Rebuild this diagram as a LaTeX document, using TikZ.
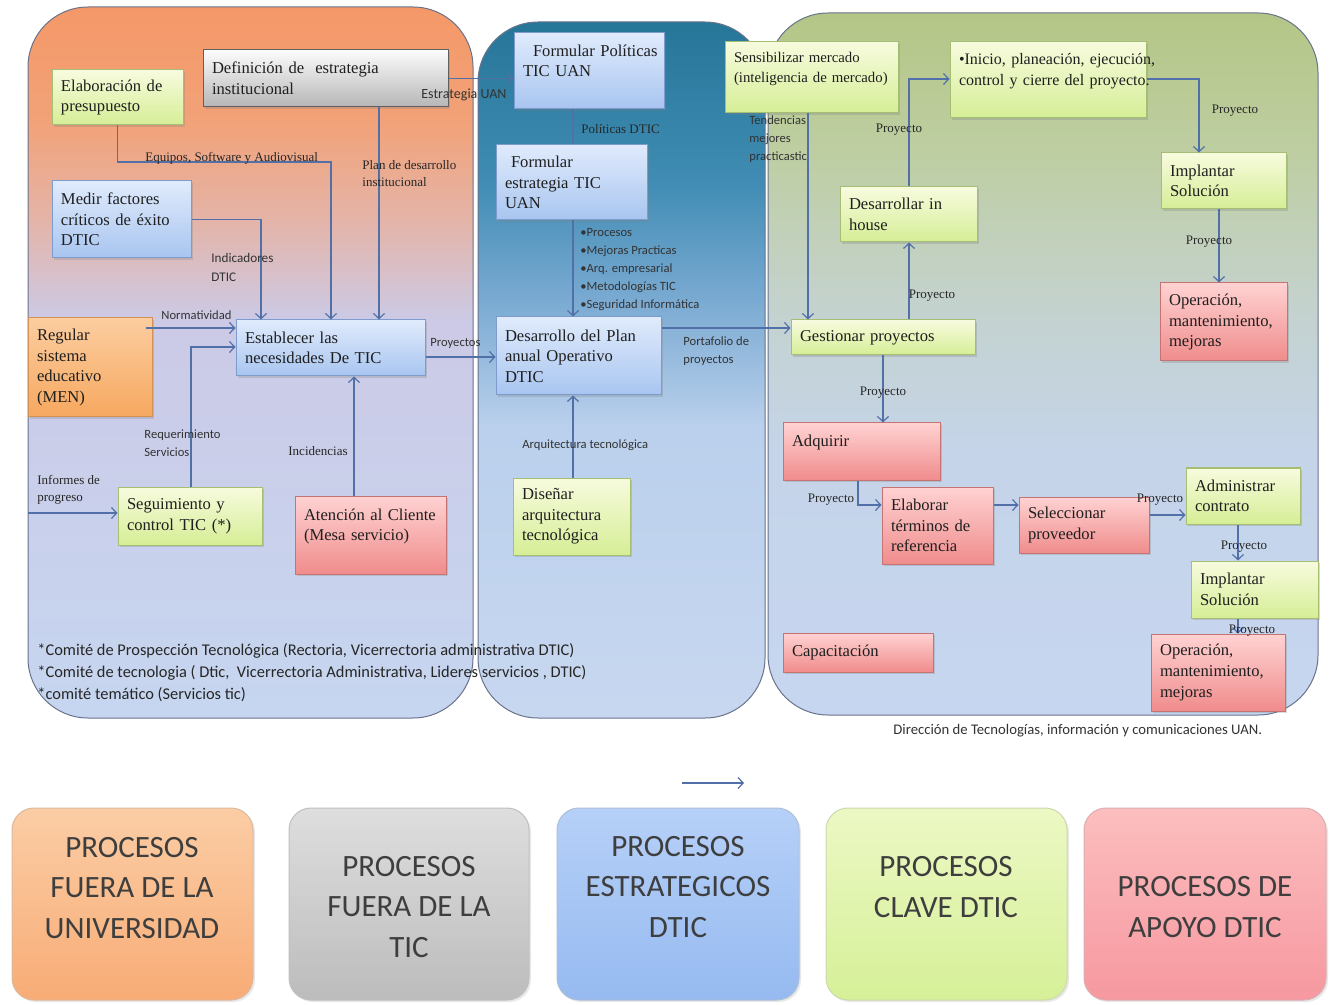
\documentclass[tikz,border=0pt]{standalone}
\usepackage{fontspec}
\setmainfont{Liberation Serif}
\setsansfont{Carlito}
\usetikzlibrary{arrows.meta,shadows,calc}

% connector and text colours
\definecolor{lnk}{RGB}{82,112,168}
\definecolor{panelline}{RGB}{105,115,140}
\definecolor{legendtext}{RGB}{62,62,62}
% box colours
\definecolor{bxbluetop}{RGB}{224,235,252}
\definecolor{bxbluebot}{RGB}{168,197,240}
\definecolor{bxblueline}{RGB}{125,155,205}
\definecolor{bxgreentop}{RGB}{247,251,222}
\definecolor{bxgreenbot}{RGB}{214,238,150}
\definecolor{bxgreenline}{RGB}{165,190,115}
\definecolor{bxredtop}{RGB}{255,210,210}
\definecolor{bxredbot}{RGB}{240,140,140}
\definecolor{bxredline}{RGB}{200,115,115}
\definecolor{bxorangetop}{RGB}{252,205,160}
\definecolor{bxorangebot}{RGB}{246,168,95}
\definecolor{bxorangeline}{RGB}{210,145,85}
\definecolor{bxgraytop}{RGB}{252,252,252}
\definecolor{bxgraybot}{RGB}{182,182,182}
\definecolor{bxgrayline}{RGB}{95,95,95}
% legend colours
\definecolor{lgorangetop}{RGB}{251,205,165}
\definecolor{lgorangebot}{RGB}{248,172,118}
\definecolor{lggraytop}{RGB}{222,222,222}
\definecolor{lggraybot}{RGB}{188,188,188}
\definecolor{lgbluetop}{RGB}{182,208,248}
\definecolor{lgbluebot}{RGB}{150,186,240}
\definecolor{lggreentop}{RGB}{236,248,196}
\definecolor{lggreenbot}{RGB}{214,240,152}
\definecolor{lgredtop}{RGB}{252,190,190}
\definecolor{lgredbot}{RGB}{246,152,160}
% panel colours
\definecolor{pla}{RGB}{244,152,104}
\definecolor{plb}{RGB}{242,162,120}
\definecolor{plc}{RGB}{228,180,168}
\definecolor{pld}{RGB}{204,202,230}
\definecolor{ple}{RGB}{198,214,240}
\definecolor{pma}{RGB}{38,118,152}
\definecolor{pmb}{RGB}{64,140,180}
\definecolor{pmc}{RGB}{122,170,210}
\definecolor{pmd}{RGB}{186,208,236}
\definecolor{pme}{RGB}{200,215,240}
\definecolor{pra}{RGB}{180,198,134}
\definecolor{prb}{RGB}{190,206,162}
\definecolor{prc}{RGB}{196,210,205}
\definecolor{prd}{RGB}{197,212,232}
\definecolor{pre}{RGB}{198,214,240}

\pgfdeclareverticalshading{leftpanel}{100bp}{color(0bp)=(ple); color(25bp)=(ple);
  color(53bp)=(pld); color(60bp)=(plc); color(67bp)=(plb); color(75bp)=(pla); color(100bp)=(pla)}
\pgfdeclareverticalshading{midpanel}{100bp}{color(0bp)=(pme); color(25bp)=(pme);
  color(46bp)=(pmd); color(55bp)=(pmc); color(63.5bp)=(pmb); color(75bp)=(pma); color(100bp)=(pma)}
\pgfdeclareverticalshading{rightpanel}{100bp}{color(0bp)=(pre); color(25bp)=(pre);
  color(44bp)=(prd); color(54.5bp)=(prc); color(65bp)=(prb); color(75bp)=(pra); color(100bp)=(pra)}

\tikzset{
  procbox/.style={rectangle, line width=0.5pt, align=left, inner xsep=4.5pt, inner ysep=1pt,
    font=\fontsize{8.3}{10.3}\selectfont, text=black!88,
    drop shadow={shadow xshift=1.2pt, shadow yshift=-1.2pt, opacity=0.28}},
  bluebox/.style={procbox, draw=bxblueline, top color=bxbluetop, bottom color=bxbluebot},
  greenbox/.style={procbox, draw=bxgreenline, top color=bxgreentop, bottom color=bxgreenbot},
  redbox/.style={procbox, draw=bxredline, top color=bxredtop, bottom color=bxredbot},
  orangebox/.style={procbox, draw=bxorangeline, top color=bxorangetop, bottom color=bxorangebot},
  graybox/.style={procbox, draw=bxgrayline, top color=bxgraytop, bottom color=bxgraybot},
  link/.style={draw=lnk, line width=0.6pt},
  arr/.style={link, -{Straight Barb[length=2.6pt,width=5.5pt]}},
  lbl/.style={inner sep=0pt, align=left, text=black!85, font=\fontsize{6.5}{8.5}\selectfont},
  slbl/.style={inner sep=0pt, align=left, text=black!80, font=\sffamily\fontsize{6.3}{9}\selectfont},
  panel/.style={draw=panelline, line width=0.5pt, rounded corners=30pt},
  legendbox/.style={rectangle, rounded corners=11pt, line width=0.5pt,
    drop shadow={shadow xshift=1pt, shadow yshift=-1pt, opacity=0.18}},
  legendlabel/.style={align=center, text=legendtext, inner sep=0pt,
    font=\sffamily\fontsize{15.5}{20.3}\selectfont}
}

% process box from its pixel corners: name, style, x1, y1, x2, y2, text
\newcommand\dticbox[7]{%
  \pgfmathsetmacro\dbw{(#5-#3)/2}%
  \pgfmathsetmacro\dbh{(#6-#4)/2}%
  \pgfmathsetmacro\dtw{(#5-#3)/2-9}%
  \node[#2, minimum width=\dbw pt, minimum height=\dbh pt, text width=\dtw pt]
    (#1) at ({(#3+#5)/2},{(#4+#6)/2}) {#7};%
}
% legend tile: name, top colour, bottom colour, x1, x2
\newcommand\legendtile[5]{%
  \pgfmathsetmacro\lgw{(#5-#4)/2}%
  \node[legendbox, draw=#3!80!black!60, top color=#2, bottom color=#3,
    minimum width=\lgw pt, minimum height=96pt] (#1) at ({(#4+#5)/2},904) {};%
}

\begin{document}
\begin{tikzpicture}[x=0.5pt,y=-0.5pt]
\useasboundingbox (0,0) rectangle (1333,1005);
\fill[white] (0,0) rectangle (1333,1005);

% ---- the three process areas
\path[panel, shading=leftpanel] (28,7) rectangle (473,718);
\path[panel, shading=midpanel] (478,22) rectangle (765,718);
\path[panel, shading=rightpanel] (768,13) rectangle (1318,715);

% ---- processes outside DTIC and strategic processes
\dticbox{def}{graybox}{203}{50}{448}{107}{Definición de\ \ estrategia\\institucional}
\dticbox{elab}{greenbox}{52}{70}{183}{125}{Elaboración de\\presupuesto}
\dticbox{medir}{bluebox}{52}{181}{191}{258}{Medir factores\\críticos de éxito\\DTIC}
\dticbox{regular}{orangebox}{28}{318}{152}{417}{Regular\\sistema\\educativo\\(MEN)}
\dticbox{estab}{bluebox}{236}{320}{425}{376}{Establecer las\\necesidades De TIC}
\dticbox{segui}{greenbox}{118}{487}{262}{545}{Seguimiento y\\control TIC (*)}
\dticbox{atenc}{redbox}{295}{496}{446}{574}{Atención al Cliente\\(Mesa servicio)\\\mbox{}}
\dticbox{formpol}{bluebox}{514}{33}{664}{109}{\mbox{\hspace*{5pt}Formular Políticas}\\TIC UAN\\\mbox{}}
\dticbox{formest}{bluebox}{496}{145}{647}{220}{\hspace*{3pt}Formular\\estrategia TIC\\UAN}
\dticbox{desplan}{bluebox}{496}{317}{661}{395}{Desarrollo del Plan\\anual Operativo\\DTIC}
\dticbox{disenar}{greenbox}{513}{478}{630}{555}{Diseñar\\arquitectura\\tecnológica}

% ---- key processes
\dticbox{sensib}{greenbox, font=\fontsize{7.4}{10.2}\selectfont}{725}{42}{898}{113}{Sensibilizar mercado\\(inteligencia de mercado)\\\mbox{}}
\dticbox{inicio}{greenbox, font=\fontsize{8}{10.3}\selectfont}{950}{42}{1146}{118}{\mbox{•Inicio, planeación, ejecución,}\\\mbox{control y cierre del proyecto.}\\\mbox{}}
\dticbox{implA}{greenbox}{1161}{153}{1286}{209}{Implantar\\Solución}
\dticbox{desinh}{greenbox}{840}{187}{977}{242}{Desarrollar in\\house}
\dticbox{gestion}{greenbox}{791}{320}{975}{355}{Gestionar proyectos}
\dticbox{operA}{redbox}{1160}{283}{1287}{361}{Operación,\\mantenimiento,\\mejoras}
\dticbox{adquirir}{redbox}{783}{423}{940}{480}{Adquirir\\\mbox{}}
\dticbox{elabterm}{redbox}{882}{487}{993}{564}{Elaborar\\términos de\\referencia}
\dticbox{selec}{redbox}{1019}{497}{1149}{553}{Seleccionar\\proveedor}
\dticbox{admin}{greenbox}{1186}{468}{1300}{524}{Administrar\\contrato}
\dticbox{implB}{greenbox}{1191}{561}{1318}{618}{Implantar\\Solución}
\dticbox{capac}{redbox}{783}{633}{933}{672}{Capacitación}
\dticbox{operB}{redbox}{1151}{634}{1285}{711}{Operación,\\mantenimiento,\\mejoras}

% ---- turning points and free ends of connectors
\coordinate (t1) at (331,162);
\coordinate (t2) at (261,0);
\coordinate (t3) at (379,0);
\coordinate (t4) at (0,328);
\coordinate (t5) at (191,347);
\coordinate (t6) at (354,0);
\coordinate (inf) at (28,513);
\coordinate (t7) at (0,357);
\coordinate (t8) at (573,0);
\coordinate (t9) at (0,328);
\coordinate (t10) at (808,0);
\coordinate (t11) at (909,0);
\coordinate (t12) at (909,79);
\coordinate (t13) at (1199,79);
\coordinate (t14) at (1219,0);
\coordinate (t15) at (883,0);
\coordinate (t16) at (858,505);
\coordinate (t17) at (0,505);
\coordinate (t18) at (0,515);
\coordinate (t19) at (1238,0);
\coordinate (s1) at (682,783);
\coordinate (s2) at (744,783);

% ---- connectors
\draw[arr] (def.east) -- (def.east -| formpol.west);
\draw[arr] (elab.south) |- (t1) -- (t1 |- estab.north);
\draw[arr] (medir.east) -| (t2 |- estab.north);
\draw[arr] (t3 |- def.south) -- (t3 |- estab.north);
\draw[arr] ([xshift=-3.5pt]regular.east |- t4) -- (estab.west |- t4);
\draw[arr] (t5 |- segui.north) -- (t5) -- (estab.west |- t5);
\draw[arr] (t6 |- atenc.north) -- (t6 |- estab.south);
\draw[arr] (inf) -- (segui.west |- inf);
\draw[arr] (estab.east |- t7) -- (desplan.west |- t7);
\draw[link] (t8 |- formpol.south) -- (t8 |- formest.north);
\draw[arr] (t8 |- formest.south) -- (t8 |- desplan.north);
\draw[arr] (t8 |- disenar.north) -- (t8 |- desplan.south);
\draw[arr] (desplan.east |- t9) -- (gestion.west |- t9);
\draw[arr] (t10 |- sensib.south) -- (t10 |- gestion.north);
\draw[arr] (t11 |- gestion.north) -- (t11 |- desinh.south);
\draw[arr] (t11 |- desinh.north) -- (t12) -- (inicio.west |- t12);
\draw[arr] (inicio.east |- t13) -- (t13) -- (t13 |- implA.north);
\draw[arr] (t14 |- implA.south) -- (t14 |- operA.north);
\draw[arr] (t15 |- gestion.south) -- (t15 |- adquirir.north);
\draw[arr] (t16 |- adquirir.south) -- (t16) -- (elabterm.west |- t16);
\draw[arr] (elabterm.east |- t17) -- (selec.west |- t17);
\draw[arr] (selec.east |- t18) -- (admin.west |- t18);
\draw[arr] (t19 |- admin.south) -- (t19 |- implB.north);
\draw[arr] (t19 |- implB.south) -- (t19 |- operB.north);
\draw[arr] (s1) -- (s2);

% ---- connector labels
\node[slbl, font=\sffamily\fontsize{7}{9}\selectfont, anchor=west] (lestr) at (421,95) {Estrategia UAN};
\node[lbl, anchor=west] (lequip) at (145,158) {Equipos, Software y Audiovisual};
\node[lbl, anchor=north west] (lplan) at (362,160) {Plan de desarrollo\\institucional};
\node[slbl, font=\sffamily\fontsize{6.6}{9.5}\selectfont, anchor=north west] (lindic) at (211,253) {Indicadores\\DTIC};
\node[slbl, anchor=west] (lnorm) at (161,315) {Normatividad};
\node[slbl, anchor=north west] (lreq) at (144,429) {Requerimiento\\Servicios};
\node[lbl, anchor=west] (linc) at (288,451) {Incidencias};
\node[lbl, anchor=north west] (linf) at (37,475) {Informes de\\progreso};
\node[slbl, anchor=west] (lproys) at (430,343) {Proyectos};
\node[lbl, anchor=west] (lpol) at (581,129) {Políticas DTIC};
\node[slbl, anchor=north west] (lbul) at (580,228) {•Procesos\\•Mejoras Practicas\\•Arq. empresarial\\•Metodologías TIC\\•Seguridad Informática};
\node[slbl, anchor=west] (larq) at (522,445) {Arquitectura tecnológica};
\node[slbl, anchor=north west] (lport) at (683,336) {Portafolio de\\proyectos};
\node[slbl, anchor=north west] (ltend) at (749,115) {Tendencias\\mejores\\practicastic};
\node[lbl] (lp1) at (899,130) {Proyecto};
\node[lbl] (lp2) at (932,296) {Proyecto};
\node[lbl] (lp3) at (1235,111) {Proyecto};
\node[lbl] (lp4) at (1209,242) {Proyecto};
\node[lbl] (lp5) at (883,393) {Proyecto};
\node[lbl] (lp6) at (831,500) {Proyecto};
\node[lbl] (lp7) at (1160,500) {Proyecto};
\node[lbl] (lp8) at (1244,547) {Proyecto};
\node[lbl] (lp9) at (1252,631) {Proyecto};

% ---- committee notes and credit line
\node[anchor=north west, align=left, inner sep=0pt, text=black!85,
  font=\sffamily\fontsize{8.2}{11}\selectfont] (notes) at (37,643)
  {*Comité de Prospección Tecnológica (Rectoria, Vicerrectoria administrativa DTIC)\\
   *Comité de tecnologia ( Dtic,\ \ Vicerrectoria Administrativa, Lideres servicios , DTIC)\\
   *comité temático (Servicios tic)};
\node[anchor=west, inner sep=0pt, text=black!80, font=\sffamily\fontsize{7.35}{8}\selectfont]
  (credit) at (893,731) {Dirección de Tecnologías, información y comunicaciones UAN.};

% ---- legend
\legendtile{lg1}{lgorangetop}{lgorangebot}{12}{253}
\legendtile{lg2}{lggraytop}{lggraybot}{289}{529}
\legendtile{lg3}{lgbluetop}{lgbluebot}{557}{799}
\legendtile{lg4}{lggreentop}{lggreenbot}{826}{1067}
\legendtile{lg5}{lgredtop}{lgredbot}{1084}{1326}
\node[legendlabel] (lgt1) at (132,888) {PROCESOS\\FUERA DE LA\\UNIVERSIDAD};
\node[legendlabel] (lgt2) at (409,907) {PROCESOS\\FUERA DE LA\\TIC};
\node[legendlabel] (lgt3) at (678,887) {PROCESOS\\ESTRATEGICOS\\DTIC};
\node[legendlabel] (lgt4) at (946,887) {PROCESOS\\CLAVE DTIC};
\node[legendlabel] (lgt5) at (1205,907) {PROCESOS DE\\APOYO DTIC};
\end{tikzpicture}
\end{document}
